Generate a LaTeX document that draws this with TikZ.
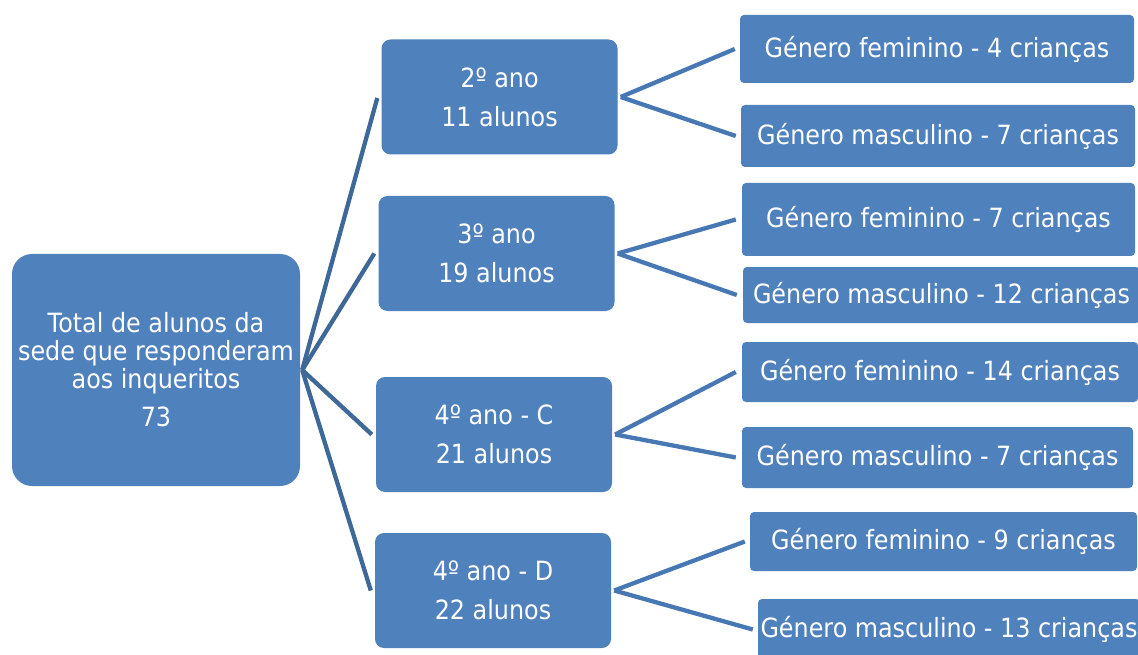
\documentclass[tikz,border=0pt]{standalone}
\usepackage{fontspec}
\setmainfont[FakeStretch=0.9]{DejaVu Sans}
\definecolor{boxblue}{HTML}{4F81BD}
\definecolor{lineA}{HTML}{3E6898}
\definecolor{lineB}{HTML}{4878B4}
\tikzset{
  base/.style={fill=boxblue, text=white, inner sep=0pt, align=center,
    font=\fontsize{26.5}{28}\selectfont},
  rootbox/.style={base, rounded corners=20pt},
  yearbox/.style={base, rounded corners=9pt, minimum width=236pt, minimum height=115pt},
  leafbox/.style={base, rounded corners=4pt},
  connA/.style={draw=lineA, line width=4.3pt},
  connB/.style={draw=lineB, line width=4.3pt},
}
\begin{document}
\begin{tikzpicture}[x=1pt, y=-1pt]
\clip (0,0) rectangle (1138,655);
\fill[white] (0,0) rectangle (1138,655);

\node[rootbox, minimum width=288pt, minimum height=232pt] (root) at (156,370)
  {Total de alunos da\\sede que responderam\\aos inqueritos\\[10pt]73};

\node[yearbox] (y1) at (499.5,97) {2º ano\\[11pt]11 alunos};
\node[yearbox] (y2) at (496.5,253.5) {3º ano\\[11pt]19 alunos};
\node[yearbox] (y3) at (494,434.5) {4º ano - C\\[11pt]21 alunos};
\node[yearbox] (y4) at (493,590.5) {4º ano - D\\[11pt]22 alunos};

\node[leafbox, minimum width=394pt, minimum height=68pt] (l1) at (937,49) {Género feminino - 4 crianças};
\node[leafbox, minimum width=394pt, minimum height=62pt] (l2) at (938,136) {Género masculino - 7 crianças};
\node[leafbox, minimum width=393pt, minimum height=73pt] (l3) at (938.5,219.5) {Género feminino - 7 crianças};
\node[leafbox, minimum width=397pt, minimum height=56pt] (l4) at (941.5,295) {Género masculino - 12 crianças};
\node[leafbox, minimum width=396pt, minimum height=60pt] (l5) at (940,372) {Género feminino - 14 crianças};
\node[leafbox, minimum width=391pt, minimum height=61pt] (l6) at (937.5,457.5) {Género masculino - 7 crianças};
\node[leafbox, minimum width=387pt, minimum height=59pt] (l7) at (943.5,541.5) {Género feminino - 9 crianças};
\node[leafbox, minimum width=382pt, minimum height=61pt] (l8) at (949,629.5) {Género masculino - 13 crianças};

\draw[connA] ([xshift=2pt]root.east) -- ([xshift=-4pt,yshift=-1pt]y1.west);
\draw[connA] ([xshift=2pt]root.east) -- ([xshift=-4pt]y2.west);
\draw[connA] ([xshift=2pt]root.east) -- ([xshift=-4pt]y3.west);
\draw[connA] ([xshift=2pt]root.east) -- ([xshift=-4pt]y4.west);

\draw[connB] ([xshift=3pt]y1.east) -- ([xshift=-5pt]l1.west);
\draw[connB] ([xshift=3pt]y1.east) -- ([xshift=-5pt]l2.west);
\draw[connB] ([xshift=3pt]y2.east) -- ([xshift=-6pt]l3.west);
\draw[connB] ([xshift=3pt]y2.east) -- ([xshift=-6pt]l4.west);
\draw[connB] ([xshift=3pt]y3.east) -- ([xshift=-6pt]l5.west);
\draw[connB] ([xshift=3pt]y3.east) -- ([xshift=-6pt]l6.west);
\draw[connB] ([xshift=3pt]y4.east) -- ([xshift=-5pt]l7.west);
\draw[connB] ([xshift=3pt]y4.east) -- ([xshift=-5pt]l8.west);
\end{tikzpicture}
\end{document}
